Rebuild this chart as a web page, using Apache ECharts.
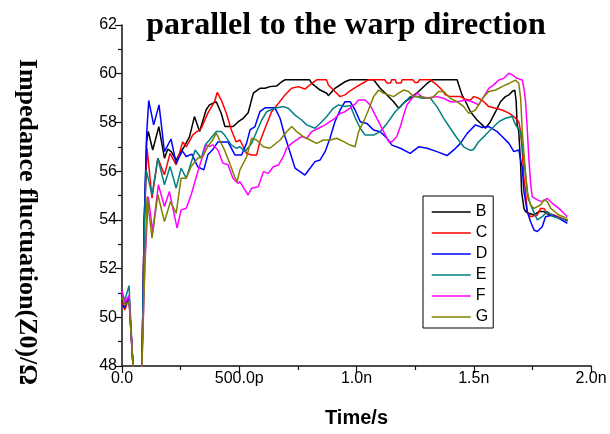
<!DOCTYPE html>
<html>
<head>
<meta charset="utf-8">
<script src="https://cdn.jsdelivr.net/npm/echarts@6/dist/echarts.min.js"></script>
<style>
html,body{margin:0;padding:0;background:#fff;}
#chart{width:610px;height:434px;}
</style>
</head>
<body>
<div id="chart"></div>
<script>
// Time in ps, value in ohm
const seriesNames = ['B','C','D','E','F','G'];
const seriesColors = ['#000000','#ff0000','#0000ff','#008080','#ff00ff','#808000'];
const xTickLabels = ['0.0','500.0p','1.0n','1.5n','2.0n'];
const yTickValues = [48,50,52,54,56,58,60,62];

const dataB = [[0,50.7],[12,50.5],[30,50.8],[47,48],[60,45],[72,45],[85,48],[95,54],[105,57.2],[112,57.63],[131,56.87],[157,57.83],[181,56.53],[195,56.9],[210,56.8],[231,56.45],[245,56.7],[262,56.95],[288,57.42],[309,58.24],[331,57.63],[359,58.52],[373,58.72],[402,58.85],[423,58.38],[439,57.83],[459,57.83],[474,57.83],[496,58.03],[517,58.17],[538,58.4],[560,59.2],[588,59.4],[610,59.4],[631,59.47],[660,59.5],[681,59.67],[695,59.75],[800,59.75],[809,59.6],[845,59.33],[873,59.2],[880,59.1],[908,59.4],[951,59.67],[973,59.75],[1073,59.75],[1101,59.4],[1130,59.13],[1158,58.85],[1180,58.58],[1201,58.8],[1237,59.06],[1265,59.27],[1301,59.6],[1322,59.75],[1429,59.75],[1436,59.54],[1450,59.13],[1464,58.88],[1486,58.44],[1514,58.1],[1536,57.9],[1550,57.76],[1571,58.03],[1593,58.44],[1614,58.85],[1635,59.06],[1650,59.13],[1664,59.27],[1675,59.33],[1681,58.85],[1685,57.9],[1692,57.62],[1700,56.25],[1704,55.16],[1714,54.47],[1721,54.34],[1735,54.27],[1757,54.2],[1778,54.34],[1799,54.34],[1821,54.2],[1849,54.13],[1892,54.0],[1900,53.95]];

const dataC = [[0,50.6],[12,50.3],[30,50.8],[47,48],[60,45],[72,45],[85,48],[95,54],[107,56.94],[128,54.89],[153,56.53],[181,55.85],[205,56.73],[231,56.26],[259,57.2],[274,57.0],[302,57.49],[338,57.76],[366,58.38],[395,58.86],[406,59.23],[423,58.93],[445,58.38],[466,57.7],[487,57.2],[503,57.28],[517,57.0],[531,56.73],[553,56.66],[574,56.66],[588,57.21],[610,57.76],[638,58.44],[667,58.78],[695,59.13],[723,59.4],[752,59.47],[780,59.37],[809,59.6],[830,59.75],[872,59.75],[880,59.54],[908,59.27],[930,59.06],[951,59.13],[973,59.3],[1001,59.47],[1037,59.67],[1050,59.75],[1120,59.75],[1130,59.62],[1145,59.62],[1150,59.75],[1165,59.75],[1170,59.62],[1190,59.62],[1195,59.75],[1240,59.75],[1250,59.64],[1262,59.64],[1268,59.75],[1315,59.75],[1343,59.54],[1365,59.33],[1379,59.13],[1400,59.06],[1443,59.06],[1464,58.95],[1486,58.92],[1500,59.06],[1521,58.99],[1543,58.85],[1564,58.65],[1593,58.58],[1621,58.51],[1650,58.38],[1671,58.24],[1692,58.03],[1700,57.62],[1707,56.8],[1714,55.7],[1721,55.16],[1728,54.34],[1742,54.13],[1771,54.2],[1785,54.47],[1799,54.47],[1814,54.27],[1842,54.2],[1892,54.0],[1900,54.0]];

const dataD = [[0,50.5],[12,50.4],[30,50.8],[47,48],[60,45],[72,45],[85,48],[95,54],[105,57.5],[114,58.9],[135,57.9],[158,58.72],[181,56.8],[209,57.32],[231,56.32],[257,56.83],[274,56.6],[298,56.7],[323,56.18],[349,56.05],[366,56.67],[388,56.9],[409,57.2],[452,57.2],[482,56.66],[510,56.66],[531,57.14],[546,57.69],[567,57.83],[588,58.44],[610,58.6],[652,58.6],[674,58.17],[695,57.42],[716,56.8],[738,56.12],[759,55.98],[780,55.84],[802,56.12],[823,56.39],[845,56.46],[866,56.8],[887,57.35],[908,58.03],[930,58.51],[951,58.85],[973,58.85],[994,58.51],[1016,58.03],[1044,57.96],[1073,57.69],[1101,57.62],[1130,57.35],[1151,57.07],[1187,56.94],[1229,56.73],[1265,57.0],[1301,56.94],[1343,56.8],[1386,56.64],[1415,56.87],[1443,57.14],[1472,57.55],[1486,57.69],[1507,57.9],[1536,57.79],[1564,57.83],[1600,57.62],[1621,57.42],[1650,57.14],[1671,56.8],[1692,56.87],[1707,56.12],[1714,55.16],[1728,54.34],[1742,53.93],[1757,53.58],[1771,53.52],[1792,53.72],[1806,54.13],[1835,54.2],[1863,54.06],[1899,53.86]];

const dataE = [[0,51.0],[12,50.7],[30,51.3],[47,48],[60,45],[72,45],[85,48],[95,53.5],[103,56.05],[128,55.03],[153,56.53],[181,55.44],[205,56.19],[231,55.3],[252,56.12],[274,55.71],[290,56.2],[312,56.87],[338,56.53],[355,57.08],[373,57.28],[402,57.63],[423,57.63],[437,57.49],[466,57.08],[487,56.94],[503,57.0],[524,56.8],[553,57.14],[574,57.62],[596,58.1],[617,58.44],[652,58.58],[688,58.65],[709,58.58],[738,58.3],[766,58.1],[788,57.9],[823,57.76],[852,58.03],[873,58.24],[901,58.58],[923,58.72],[951,58.65],[973,58.7],[994,58.2],[1016,57.76],[1037,57.48],[1073,57.48],[1101,57.62],[1130,57.96],[1165,58.44],[1201,58.79],[1229,59.06],[1258,59.06],[1279,58.99],[1315,58.99],[1343,58.65],[1372,58.17],[1400,57.76],[1429,57.35],[1457,57.0],[1486,56.85],[1500,56.9],[1521,57.21],[1550,57.48],[1578,57.76],[1607,58.03],[1635,58.17],[1664,58.24],[1678,57.9],[1700,57.62],[1721,55.84],[1732,54.88],[1749,54.47],[1771,54.0],[1792,54.13],[1814,54.34],[1842,54.13],[1892,54.0],[1900,53.98]];

const dataF = [[0,51.1],[12,50.6],[30,50.9],[47,48],[60,45],[72,45],[85,48],[97,52],[112,54.96],[131,53.52],[155,55.44],[181,54.55],[202,55.16],[235,53.66],[252,54.41],[274,54.48],[295,55.03],[309,55.5],[330,56.19],[359,57.08],[373,57.01],[387,57.08],[409,56.87],[430,56.33],[452,56.26],[473,55.71],[494,55.5],[503,55.57],[524,55.23],[538,55.02],[553,55.3],[581,55.36],[603,55.98],[624,55.91],[645,56.18],[667,56.25],[688,56.6],[702,56.94],[723,57.14],[745,57.28],[766,57.42],[788,57.35],[809,57.62],[838,57.76],[866,57.9],[887,58.03],[908,58.17],[930,58.37],[951,58.44],[973,58.6],[994,58.75],[1009,58.92],[1037,58.92],[1058,58.72],[1080,58.3],[1101,57.9],[1123,57.48],[1137,57.21],[1151,57.21],[1172,57.42],[1187,57.83],[1201,58.3],[1215,58.72],[1237,58.99],[1258,59.2],[1279,59.06],[1308,58.99],[1343,59.06],[1372,58.99],[1400,58.85],[1429,58.85],[1464,58.92],[1493,58.85],[1521,58.72],[1543,59.06],[1564,59.4],[1585,59.54],[1607,59.74],[1628,59.81],[1650,60.02],[1664,59.95],[1685,59.81],[1707,59.74],[1714,59.4],[1721,58.85],[1728,57.76],[1735,56.53],[1742,55.57],[1749,54.95],[1771,54.82],[1792,54.75],[1814,54.88],[1835,54.68],[1863,54.47],[1892,54.2],[1899,54.13]];

const dataG = [[0,50.8],[12,50.5],[30,50.64],[47,48],[60,45],[72,45],[85,48],[97,52],[107,54.96],[128,53.25],[153,55.03],[181,53.93],[207,54.75],[231,54.27],[252,55.71],[274,55.71],[295,56.19],[323,56.53],[345,56.6],[366,57.01],[387,57.28],[402,57.56],[416,57.28],[437,56.87],[459,56.33],[480,55.78],[491,55.57],[503,56.05],[532,56.6],[553,57.35],[574,57.28],[603,57.0],[631,56.94],[674,57.28],[702,57.62],[724,57.83],[745,57.62],[773,57.42],[802,57.28],[830,57.14],[859,57.28],[888,57.28],[916,57.35],[945,57.21],[973,57.07],[994,57.0],[1009,57.62],[1030,58.03],[1051,58.51],[1073,59.06],[1094,59.33],[1115,59.2],[1137,59.13],[1158,59.06],[1180,59.2],[1201,59.33],[1222,59.27],[1244,59.06],[1272,59.06],[1301,58.99],[1329,59.06],[1350,59.27],[1372,59.27],[1400,58.99],[1429,58.85],[1457,58.65],[1479,58.37],[1486,58.3],[1507,58.51],[1529,58.85],[1543,59.06],[1564,59.27],[1593,59.33],[1621,59.47],[1650,59.6],[1678,59.74],[1692,59.6],[1700,58.99],[1707,57.62],[1718,56.25],[1728,55.16],[1742,54.61],[1757,54.47],[1785,54.61],[1799,54.82],[1814,54.75],[1828,54.47],[1863,54.2],[1899,54.06]];

const allData = [dataB, dataC, dataD, dataE, dataF, dataG];

const chart = echarts.init(document.getElementById('chart'), null, {renderer:'canvas'});
const sans = 'Liberation Sans';
const serif = 'Liberation Serif';

chart.setOption({
  animation: false,
  backgroundColor: '#ffffff',
  grid: {left: 122, right: 19, top: 25, bottom: 68, containLabel: false},
  xAxis: {
    type: 'value', min: 0, max: 2000, interval: 500,
    name: 'Time/s', nameLocation: 'middle', nameGap: 42,
    nameTextStyle: {fontFamily: sans, fontWeight: 'bold', fontSize: 20, color: '#000'},
    axisLine: {show: true, lineStyle: {color: '#111', width: 1.5}},
    axisTick: {show: true, inside: false, length: 7, lineStyle: {color: '#111', width: 1.2}},
    minorTick: {show: true, splitNumber: 2, length: 4, lineStyle: {color: '#111', width: 1.2}},
    axisLabel: {margin: 5, fontFamily: sans, fontSize: 16, color: '#000',
      formatter: function (v) { return xTickLabels[Math.round(v / 500)]; }},
    splitLine: {show: false}
  },
  yAxis: {
    type: 'value', min: 48, max: 62, interval: 2,
    axisLine: {show: true, onZero: false, lineStyle: {color: '#111', width: 1.5}},
    axisTick: {show: true, inside: false, length: 7, lineStyle: {color: '#111', width: 1.2}},
    minorTick: {show: true, splitNumber: 2, length: 4, lineStyle: {color: '#111', width: 1.2}},
    axisLabel: {margin: 5, fontFamily: sans, fontSize: 16, color: '#000',
      formatter: function (v) { return yTickValues.indexOf(v) >= 0 ? String(v) : ''; }},
    splitLine: {show: false}
  },
  legend: {
    orient: 'vertical', left: 423, top: 196,
    itemWidth: 39, itemHeight: 14, itemGap: 5,
    padding: [8, 5, 3, 8],
    borderColor: '#000', borderWidth: 1,
    itemStyle: {opacity: 0},
    lineStyle: {width: 1.5},
    textStyle: {fontFamily: sans, fontSize: 16, color: '#000'},
    data: seriesNames
  },
  graphic: [
    {type: 'text', x: 346, y: 26, silent: true,
      style: {text: 'parallel to the warp direction', fontFamily: serif, fontWeight: 'bold', fontSize: 32, fill: '#000', align: 'center', verticalAlign: 'middle'}},
    {type: 'text', x: 27, y: 222, rotation: -Math.PI / 2, silent: true,
      style: {text: 'Impedance fluctuation(Z0)/\u03A9', fontFamily: serif, fontWeight: 'bold', fontSize: 26, fill: '#000', align: 'center', verticalAlign: 'middle'}}
  ],
  series: seriesNames.map(function (n, i) {
    return {
      name: n, type: 'line', data: allData[i], symbol: 'none', smooth: false,
      clip: true,
      lineStyle: {color: seriesColors[i], width: 1.5},
      itemStyle: {color: seriesColors[i]}
    };
  })
});
</script>
</body>
</html>
